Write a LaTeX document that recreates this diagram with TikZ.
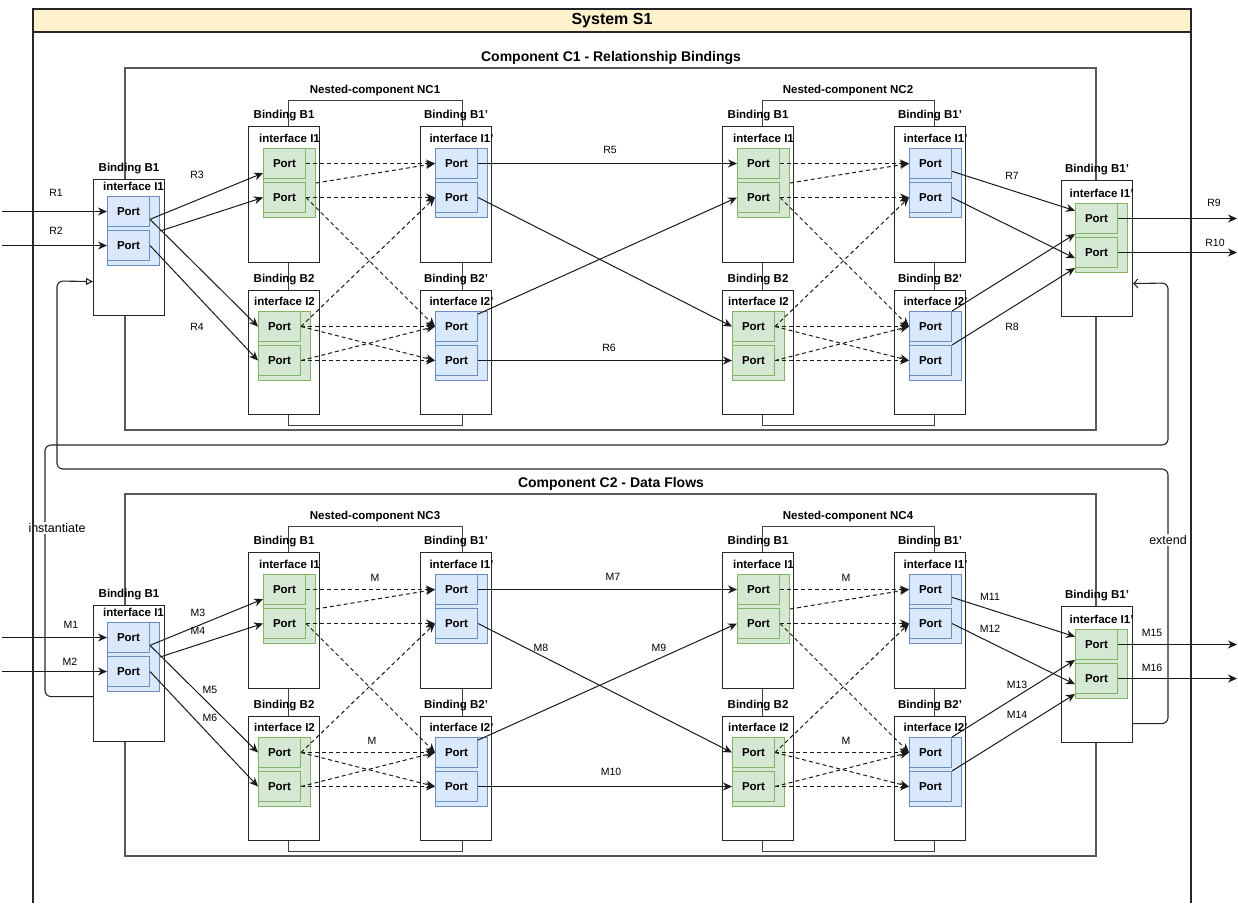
\documentclass[tikz,border=0pt]{standalone}
\usepackage{fontspec}
\setmainfont{Liberation Sans}
\usetikzlibrary{arrows.meta, positioning, calc}

\definecolor{fillblue}{HTML}{DAE8FC}
\definecolor{lineblue}{HTML}{6C8EBF}
\definecolor{fillgreen}{HTML}{D5E8D4}
\definecolor{linegreen}{HTML}{82B366}
\definecolor{headfill}{HTML}{FFF2CC}

\begin{document}
\begin{tikzpicture}[
    x=1pt, y=-1pt,
    every node/.style={font=\fontsize{11.5}{13}\selectfont\bfseries, inner sep=1pt},
    bindbox/.style={rectangle, draw=black!85, fill=white, line width=1.1pt, minimum width=71pt, inner sep=0pt, anchor=north west},
    ifblock/.style={rectangle, line width=1pt, minimum width=52pt, minimum height=69pt, inner sep=0pt, anchor=north west},
    portbox/.style={rectangle, line width=1pt, minimum width=42pt, minimum height=30pt, inner sep=0pt, anchor=north west},
    compbox/.style={draw=black!65, line width=1.5pt},
    nestbox/.style={draw=black!75, line width=0.9pt},
    title/.style={font=\fontsize{14}{16}\selectfont\bfseries},
    rlabel/.style={font=\fontsize{10.5}{12}\selectfont},
    looplabel/.style={font=\fontsize{12.5}{14}\selectfont, fill=white, inner sep=1pt},
    flow/.style={-{Stealth[length=9pt, width=8pt]}, line width=1pt, black!90},
    dashlink/.style={flow, dash pattern=on 4pt off 3pt},
    loopline/.style={line width=1.1pt, black!85, rounded corners=6pt}
]
\useasboundingbox (0,0) rectangle (1238,903);

% -------------------------
% System header
% -------------------------
    \fill[headfill] (33,9) rectangle (1191,32);
    \node[font=\fontsize{16}{18}\selectfont\bfseries] (sys) at (612,21) {System S1};

% -------------------------
% Components & nested components
% -------------------------
    \foreach \cm/\off/\ttl/\na/\nb in {1/0/Component C1 - Relationship Bindings/NC1/NC2, 2/426/Component C2 - Data Flows/NC3/NC4} {
        \draw[compbox] (125,68+\off) rectangle (1096,430+\off);
        \node[title] (c\cm-title) at (611,58+\off) {\ttl};
        \draw[nestbox] (288,100+\off) rectangle (462,425+\off);
        \draw[nestbox] (762,100+\off) rectangle (934,425+\off);
        \node (c\cm-ncl) at (375,91+\off) {Nested-component \na};
        \node (c\cm-ncr) at (848,91+\off) {Nested-component \nb};
    }

% -------------------------
% Free ends
% -------------------------
    \coordinate (lft) at (2,0);
    \coordinate (rgt) at (1237,0);

% -------------------------
% Bindings, interfaces, ports
% -------------------------
    \foreach \cm/\off in {1/0, 2/426} {
        \foreach \k/\x/\y/\h/\dx/\dy/\bl/\il/\col in {
            O-B1/93/179/136/14/17/B1/I1/blue,
            L-B1/248/126/136/15/22/B1/I1/green,
            L-B2/248/290/124/10/21/B2/I2/green,
            L-B1p/420/126/136/15/22/B1'/I1'/blue,
            L-B2p/420/290/124/15/21/B2'/I2'/blue,
            R-B1/722/126/136/15/22/B1/I1/green,
            R-B2/722/290/124/10/21/B2/I2/green,
            R-B1p/894/126/136/15/22/B1'/I1'/blue,
            R-B2p/894/290/124/15/21/B2'/I2'/blue,
            O-B1p/1061/180/136/14/23/B1'/I1'/green} {
            \node[bindbox, minimum height=\h pt] (c\cm\k) at (\x,\y+\off) {};
            \node (c\cm\k-name) at ([yshift=10pt]c\cm\k.north) {Binding \bl};
            \node[ifblock, fill=fill\col, draw=line\col] (c\cm\k-if) at ([xshift=\dx pt, yshift=-\dy pt]c\cm\k.north west) {};
            \node (c\cm\k-ifname) at ([yshift=9.5pt]c\cm\k-if.north) {interface \il};
            \node[portbox, fill=fill\col, draw=line\col] (c\cm\k-p1) at (c\cm\k-if.north west) {Port};
            \node[portbox, fill=fill\col, draw=line\col] (c\cm\k-p2) at ([yshift=-34pt]c\cm\k-if.north west) {Port};
        }
    }

    % instantiate: C2 binding B1 -> C1 binding B1'
    \draw[loopline, -{Straight Barb[length=4pt, width=9pt]}] ([yshift=-23pt]c2O-B1.west) -| (45,445) -| (1168,283) -- ([yshift=-35pt]c1O-B1p.east);
    % extend: C2 binding B1' -> C1 binding B1
    \draw[loopline, -{Triangle[open, length=7pt, width=7pt]}] ([yshift=-49pt]c2O-B1p.east) -| (1168,469) -| (57,281) -- ([yshift=-34pt]c1O-B1.west);
    \node[looplabel] (inst) at (57,528) {instantiate};
    \node[looplabel] (ext) at (1168,540) {extend};

% -------------------------
% Dashed links inside nested components
% -------------------------
    \foreach \cm in {1,2} {
        \foreach \nc in {L,R} {
            \draw[dashlink] (c\cm\nc-B1-p1.east) -- (c\cm\nc-B1p-p1.west);
            \draw[dashlink] (c\cm\nc-B1-if.east) -- (c\cm\nc-B1p-p1.west);
            \draw[dashlink] (c\cm\nc-B1-p2.east) -- (c\cm\nc-B1p-p2.west);
            \draw[dashlink] (c\cm\nc-B1-p2.east) -- (c\cm\nc-B2p-p1.west);
            \draw[dashlink] (c\cm\nc-B2-p1.east) -- (c\cm\nc-B1p-p2.west);
            \draw[dashlink] (c\cm\nc-B2-p1.east) -- (c\cm\nc-B2p-p1.west);
            \draw[dashlink] (c\cm\nc-B2-p1.east) -- (c\cm\nc-B2p-p2.west);
            \draw[dashlink] (c\cm\nc-B2-p2.east) -- (c\cm\nc-B2p-p1.west);
            \draw[dashlink] (c\cm\nc-B2-p2.east) -- (c\cm\nc-B2p-p2.west);
        }
    }

% -------------------------
% Solid flows
% -------------------------
    \foreach \cm in {1,2} {
        \coordinate (c\cm-in1) at (c\cm O-B1-p1.west -| lft);
        \coordinate (c\cm-in2) at (c\cm O-B1-p2.west -| lft);
        \coordinate (c\cm-out1) at (c\cm O-B1p-p1.east -| rgt);
        \coordinate (c\cm-out2) at (c\cm O-B1p-p2.east -| rgt);
        \draw[flow] (c\cm-in1) -- (c\cm O-B1-p1.west);
        \draw[flow] (c\cm-in2) -- (c\cm O-B1-p2.west);
        \draw[flow] (c\cm O-B1-p1.340) -- (c\cm L-B1-p1.204);
        \draw[flow] (c\cm O-B1-if.east) -- (c\cm L-B1-p2.west);
        \draw[flow] (c\cm O-B1-p1.340) -- (c\cm L-B2-p1.west);
        \draw[flow] (c\cm O-B1-p2.east) -- (c\cm L-B2-p2.west);
        \draw[flow] (c\cm L-B1p-p1.east) -- (c\cm R-B1-p1.west);
        \draw[flow] (c\cm L-B1p-p2.east) -- (c\cm R-B2-p1.west);
        \draw[flow] (c\cm L-B2p-p1.30) -- (c\cm R-B1-p2.west);
        \draw[flow] (c\cm L-B2p-p2.east) -- (c\cm R-B2-p2.west);
        \draw[flow] (c\cm R-B1p-p1.340) -- (c\cm O-B1p-p1.160);
        \draw[flow] (c\cm R-B1p-p2.east) -- (c\cm O-B1p-p2.195);
        \draw[flow] (c\cm R-B2p-p1.north east) -- (c\cm O-B1p-p1.south west);
        \draw[flow] (c\cm R-B2p-p2.north east) -- (c\cm O-B1p-p2.south west);
        \draw[flow] (c\cm O-B1p-p1.east) -- (c\cm-out1);
        \draw[flow] (c\cm O-B1p-p2.east) -- (c\cm-out2);
    }

% -------------------------
% Connector labels
% -------------------------
    \foreach \x/\y/\t [count=\i] in {56/193/R1, 56/231/R2, 197/175/R3, 197/327/R4, 610/150/R5, 609/348/R6,
        1012/176/R7, 1012/327/R8, 1214/203/R9, 1215/243/R10,
        71/625/M1, 70/662/M2, 198/613/M3, 198/631/M4, 210/690/M5, 210/718/M6, 375/578/M, 372/741/M,
        613/577/M7, 541/648/M8, 659/648/M9, 611/772/M10, 846/578/M, 846/741/M,
        990/597/M11, 990/629/M12, 1017/685/M13, 1017/715/M14, 1152/633/M15, 1152/668/M16} {
        \node[rlabel] (lbl\i) at (\x,\y) {\t};
    }

% -------------------------
% System frame
% -------------------------
    \draw[line width=1.6pt, black!85] (33,903) -- (33,9) -- (1191,9) -- (1191,903);
    \draw[line width=1.6pt, black!85] (33,32) -- (1191,32);
\end{tikzpicture}
\end{document}
